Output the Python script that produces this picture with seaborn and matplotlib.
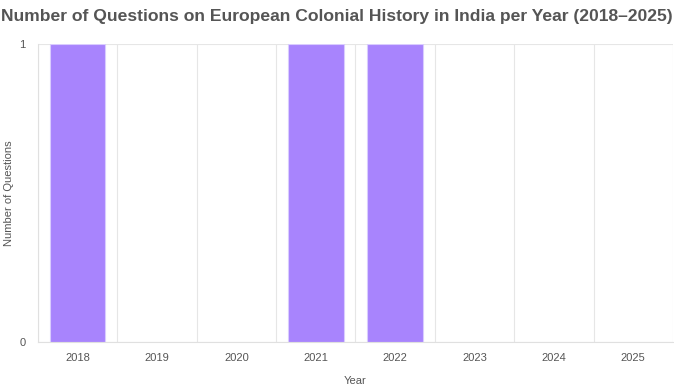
import numpy as np
import pandas as pd
import seaborn as sns
import matplotlib.pyplot as plt

years = ["2018", "2019", "2020", "2021", "2022", "2023", "2024", "2025"]
questions = [1, 0, 0, 1, 1, 0, 0, 0]

df = pd.DataFrame({"Year": years, "Questions": questions})

sns.set_style("white")
plt.rcParams['font.family'] = ['Liberation Sans', 'DejaVu Sans']

fig = plt.figure(figsize=(6.74, 3.88), dpi=100)
ax = fig.add_axes([38 / 674, 1 - 342 / 388, 635 / 674, 298 / 388])

sns.barplot(data=df, x="Year", y="Questions", color="#a884fd", width=0.7,
            saturation=1, ax=ax, edgecolor="#d9ccfe", linewidth=0.8)

# hide outlines of the empty bars
for p in ax.patches:
    if p.get_height() == 0:
        p.set_visible(False)

ax.set_xlim(-0.5, len(years) - 0.5)
ax.set_ylim(0, 1)
ax.set_yticks([0, 1])
ax.set_yticklabels(["0", "1"])
ax.set_xticks(np.arange(-0.5, len(years), 1), minor=True)
ax.grid(True, which="minor", axis="x", color="#e6e6e6", linewidth=0.8)
ax.grid(True, which="major", axis="y", color="#e6e6e6", linewidth=0.8)
ax.set_axisbelow(True)

ax.tick_params(axis="x", which="major", length=0, pad=8, labelsize=8, labelcolor="#555555")
ax.tick_params(axis="x", which="minor", length=9, color="#e0e0e0", width=0.8)
ax.tick_params(axis="y", length=6, color="#e0e0e0", width=0.8, pad=3,
               labelsize=8, labelcolor="#555555")

for s in ["top", "right"]:
    ax.spines[s].set_visible(False)
ax.spines["left"].set_color("#e0e0e0")
ax.spines["bottom"].set_color("#e0e0e0")
ax.spines["left"].set_linewidth(0.8)
ax.spines["bottom"].set_linewidth(0.8)

ax.set_xlabel("Year", fontsize=8, color="#555555", labelpad=9)
ax.set_ylabel("Number of Questions", fontsize=8, color="#555555")
ax.yaxis.set_label_coords(-24 / 635, 0.5)

fig.text(0.5, 1 - 16 / 388, "Number of Questions on European Colonial History in India per Year (2018\u20132025)",
         ha="center", va="center", fontsize=12.6, fontweight="bold", color="#555555")

fig.savefig("out.png", dpi=100)
